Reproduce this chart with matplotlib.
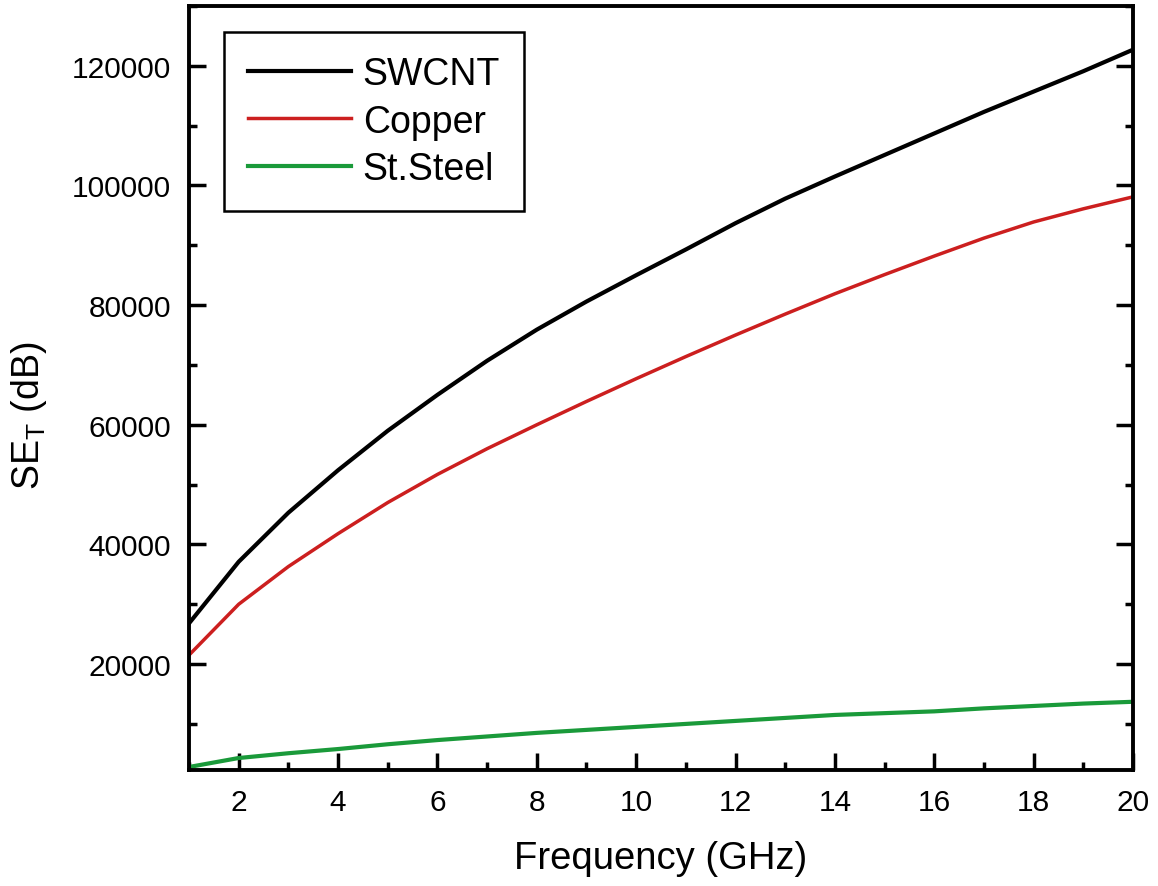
import matplotlib
matplotlib.use("Agg")
import matplotlib.pyplot as plt
from matplotlib.ticker import MultipleLocator

plt.rcParams['font.family'] = ['Liberation Sans', 'DejaVu Sans']

# --- Shielding effectiveness vs frequency ---
freq = [1, 2, 3, 4, 5, 6, 7, 8, 9, 10, 11, 12, 13, 14, 15, 16, 17, 18, 19, 20]

se_swcnt = [26800, 37100, 45300, 52400, 59000, 65000, 70700, 75900, 80600, 85000,
            89300, 93700, 97800, 101500, 105100, 108700, 112300, 115700, 119100, 122700]
se_copper = [21500, 30000, 36300, 41800, 47000, 51700, 56000, 60000, 63900, 67700,
             71400, 75000, 78500, 81900, 85100, 88200, 91200, 93900, 96100, 98100]
se_steel = [2800, 4300, 5100, 5800, 6600, 7300, 7900, 8500, 9000, 9500,
            10000, 10500, 11000, 11500, 11800, 12100, 12600, 13000, 13400, 13700]

fig = plt.figure(figsize=(11.58, 8.87), dpi=100)
ax = fig.add_axes([0.1632, 0.1308, 0.8152, 0.8613])

ax.plot(freq, se_swcnt, color='black', lw=3.0, label='SWCNT')
ax.plot(freq, se_copper, color='#cc1f1f', lw=2.5, label='Copper')
ax.plot(freq, se_steel, color='#1a9a3a', lw=3.0, label='St.Steel')

ax.set_xlim(1, 20)
ax.set_ylim(2300, 130000)
ax.xaxis.set_major_locator(MultipleLocator(2))
ax.xaxis.set_minor_locator(MultipleLocator(1))
ax.yaxis.set_major_locator(MultipleLocator(20000))
ax.yaxis.set_minor_locator(MultipleLocator(10000))

ax.tick_params(which='both', direction='in', right=True, top=False,
               width=2.5, labelsize=21.5, pad=13)
ax.tick_params(which='major', length=12)
ax.tick_params(which='minor', length=6)
for sp in ax.spines.values():
    sp.set_linewidth(2.8)

ax.set_xlabel('Frequency (GHz)', fontsize=27.5, labelpad=17)
ax.set_ylabel(r'SE$_\mathregular{T}$ (dB)', fontsize=27)
ax.yaxis.set_label_coords(-0.148, 0.465)

leg = ax.legend(loc='upper left', bbox_to_anchor=(0.037, 0.966), borderaxespad=0,
                fontsize=27, handlelength=2.75, handletextpad=0.3, labelspacing=0.3,
                borderpad=0.65, fancybox=False, framealpha=1)
leg.get_frame().set_edgecolor('black')
leg.get_frame().set_linewidth(1.8)

fig.savefig('out.png', dpi=100)
